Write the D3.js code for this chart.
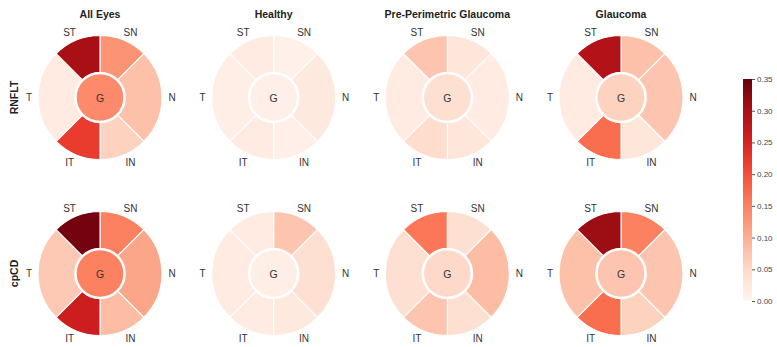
<!DOCTYPE html>
<html><head><meta charset="utf-8">
<script src="https://cdn.jsdelivr.net/npm/d3@7"></script>
<style>body{margin:0;background:#fff;} svg{display:block;font-family:"Liberation Sans",Arial,sans-serif;}</style>
</head><body><svg id="c" width="777" height="347"></svg>
<script>
const groups = ["All Eyes","Healthy","Pre-Perimetric Glaucoma","Glaucoma"];
const metrics = ["RNFLT","cpCD"];
const sectors = ["SN","N","IN","IT","T","ST"];
// values per group, order: SN, N, IN, IT, T, ST ; G separate
const rnfltSectors = [
  [0.13,0.08,0.06,0.22,0.02,0.30],
  [0.01,0.025,0.012,0.02,0.015,0.02],
  [0.03,0.02,0.03,0.045,0.02,0.075],
  [0.08,0.075,0.03,0.17,0.02,0.29]
];
const rnfltG = [0.14,0.012,0.04,0.06];
const cpcdSectors = [
  [0.15,0.11,0.085,0.26,0.07,0.34],
  [0.075,0.04,0.025,0.02,0.02,0.02],
  [0.04,0.085,0.04,0.075,0.04,0.16],
  [0.15,0.075,0.06,0.17,0.08,0.31]
];
const cpcdG = [0.15,0.015,0.05,0.075];
const cbTicks = [0,0.05,0.10,0.15,0.20,0.25,0.30,0.35];

const svg = d3.select("#c");
const color = d3.scaleSequential(d3.interpolateReds).domain([0,0.35]);
const xPos = d3.scalePoint().domain(groups).range([100,621]);
const yPos = d3.scalePoint().domain(metrics).range([97.5,273.5]);
const R = 62, r0 = 25.3, rG = 23.3;
const sectorAngles = {SN:[0,45],N:[45,135],IN:[135,180],IT:[180,225],T:[225,315],ST:[315,360]};
const labelAngles = {SN:25,N:90,IN:155,IT:205,T:270,ST:335};
const labelR = {SN:72,N:72,IN:72,IT:72,T:71,ST:72};
const arc = d3.arc().innerRadius(r0).outerRadius(R);
const rad = Math.PI/180;

metrics.forEach((m,mi)=>{
  const secs = mi===0?rnfltSectors:cpcdSectors;
  const gs = mi===0?rnfltG:cpcdG;
  groups.forEach((g,gi)=>{
    const cx = xPos(g), cy = yPos(m);
    const grp = svg.append("g").attr("transform",`translate(${cx},${cy})`);
    grp.append("circle").attr("r",R).attr("fill","#fff");
    sectors.forEach((s,si)=>{
      const a = sectorAngles[s];
      grp.append("path")
        .attr("d",arc({startAngle:a[0]*rad,endAngle:a[1]*rad}))
        .attr("fill",color(secs[gi][si]))
        .attr("stroke","#fff").attr("stroke-width",1.1);
      const la = labelAngles[s]*rad, lr = labelR[s];
      grp.append("text")
        .attr("x",lr*Math.sin(la)).attr("y",-lr*Math.cos(la))
        .attr("text-anchor","middle").attr("dominant-baseline","central")
        .attr("font-size",10).attr("fill","#333").text(s);
    });
    grp.append("circle").attr("r",rG).attr("fill",color(gs[gi]));
    grp.append("text").attr("x",0).attr("y",0)
      .attr("text-anchor","middle").attr("dominant-baseline","central")
      .attr("font-size",10.5).attr("fill","#333").text("G");
  });
});

// titles
groups.forEach(g=>{
  svg.append("text").attr("x",xPos(g)).attr("y",14)
    .attr("text-anchor","middle").attr("dominant-baseline","central")
    .attr("font-size",10.5).attr("font-weight","bold").attr("fill","#222").text(g);
});
// row labels
metrics.forEach(m=>{
  svg.append("text").attr("transform",`translate(14,${yPos(m)}) rotate(-90)`)
    .attr("text-anchor","middle").attr("dominant-baseline","central")
    .attr("font-size",10.5).attr("font-weight","bold").attr("fill","#222").text(m);
});

// colorbar
const cbX = 743, cbW = 9, cbTop = 79, cbBot = 301;
const cbScale = d3.scaleLinear().domain([0,0.35]).range([cbBot,cbTop]);
const defs = svg.append("defs");
const lg = defs.append("linearGradient").attr("id","cbg").attr("x1",0).attr("y1",1).attr("x2",0).attr("y2",0);
d3.range(0,1.0001,0.05).forEach(t=>{
  lg.append("stop").attr("offset",t).attr("stop-color",d3.interpolateReds(t));
});
svg.append("rect").attr("x",cbX).attr("y",cbTop).attr("width",cbW).attr("height",cbBot-cbTop).attr("fill","url(#cbg)");
const ax = svg.append("g").attr("transform",`translate(${cbX+cbW},0)`)
  .call(d3.axisRight(cbScale).tickValues(cbTicks).tickFormat(d3.format(".2f")).tickSize(3).tickPadding(2));
ax.select(".domain").remove();
ax.selectAll("line").attr("stroke","#555");
ax.selectAll("text").attr("font-size",8).attr("fill","#444").attr("font-family","Liberation Sans, Arial, sans-serif");
</script></body></html>
